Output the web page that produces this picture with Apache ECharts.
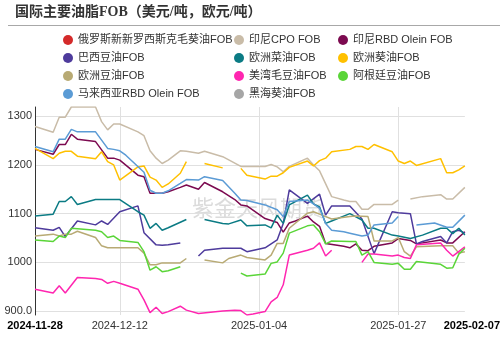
<!DOCTYPE html>
<html>
<head>
<meta charset="utf-8">
<script src="https://cdn.jsdelivr.net/npm/echarts@6/dist/echarts.min.js"></script>
<style>
html,body{margin:0;padding:0;background:#fff;}
#chart{width:503px;height:343px;}
</style>
</head>
<body>
<div id="chart"></div>
<script>
// ---------- DATA ----------
const dates = ['2024-11-28','2024-11-29','2024-11-30','2024-12-01','2024-12-02','2024-12-03','2024-12-04','2024-12-05','2024-12-06','2024-12-07','2024-12-08','2024-12-09','2024-12-10','2024-12-11','2024-12-12','2024-12-13','2024-12-14','2024-12-15','2024-12-16','2024-12-17','2024-12-18','2024-12-19','2024-12-20','2024-12-21','2024-12-22','2024-12-23','2024-12-24','2024-12-25','2024-12-26','2024-12-27','2024-12-28','2024-12-29','2024-12-30','2024-12-31','2025-01-01','2025-01-02','2025-01-03','2025-01-04','2025-01-05','2025-01-06','2025-01-07','2025-01-08','2025-01-09','2025-01-10','2025-01-11','2025-01-12','2025-01-13','2025-01-14','2025-01-15','2025-01-16','2025-01-17','2025-01-18','2025-01-19','2025-01-20','2025-01-21','2025-01-22','2025-01-23','2025-01-24','2025-01-25','2025-01-26','2025-01-27','2025-01-28','2025-01-29','2025-01-30','2025-01-31','2025-02-01','2025-02-02','2025-02-03','2025-02-04','2025-02-05','2025-02-06','2025-02-07'];
const xLabels = ['2024-11-28','2024-12-12','2025-01-04','2025-01-27','2025-02-07'];
const xGridDates = ['2024-12-12','2025-01-04','2025-01-27'];
const yTicks = [900,1000,1100,1200,1300];
const yTickLabels = ['900.0','1000','1100','1200','1300'];

const seriesNames = ['俄罗斯新新罗西斯克毛葵油FOB','印尼CPO FOB','印尼RBD Olein FOB','巴西豆油FOB','欧洲菜油FOB','欧洲葵油FOB','欧洲豆油FOB','美湾毛豆油FOB','阿根廷豆油FOB','马来西亚RBD Olein FOB','黑海葵油FOB'];

const ruSun = [];
const idnCpo = [['2024-11-28',1279],['2024-12-01',1267],['2024-12-02',1298],['2024-12-03',1298],['2024-12-04',1319],['2024-12-08',1319],['2024-12-09',1289],['2024-12-10',1272],['2024-12-11',1284],['2024-12-12',1284],['2024-12-15',1268],['2024-12-16',1260],['2024-12-17',1229],['2024-12-18',1214],['2024-12-19',1203],['2024-12-20',1210],['2024-12-22',1229],['2024-12-23',1228],['2024-12-25',1224],['2024-12-26',1228],['2024-12-29',1217],['2025-01-01',1197],['2025-01-05',1197],['2025-01-06',1201],['2025-01-07',1196],['2025-01-08',1186],['2025-01-09',1197],['2025-01-12',1214],['2025-01-13',1200],['2025-01-14',1188],['2025-01-16',1135],['2025-01-18',1128],['2025-01-19',1125],['2025-01-20',1125],['2025-01-21',1109],['2025-01-22',1109],['2025-01-23',1119],['2025-01-26',1119],['2025-01-27',1128],['2025-01-28',null],['2025-01-29',1130],['2025-01-31',1135],['2025-02-03',1139],['2025-02-04',1130],['2025-02-05',1130],['2025-02-07',1154]];
const idnRbd = [['2024-11-28',1232],['2024-12-01',1222],['2024-12-02',1242],['2024-12-03',1242],['2024-12-04',1263],['2024-12-05',1253],['2024-12-08',1248],['2024-12-10',1214],['2024-12-11',1214],['2024-12-12',1210],['2024-12-15',1179],['2024-12-16',1176],['2024-12-17',1142],['2024-12-19',1142],['2024-12-20',1145],['2024-12-22',1154],['2024-12-23',1159],['2024-12-25',1150],['2024-12-26',1164],['2024-12-29',1145],['2024-12-31',1129],['2025-01-01',1118],['2025-01-02',1116],['2025-01-05',1090],['2025-01-07',1082],['2025-01-08',1062],['2025-01-09',1081],['2025-01-10',1085],['2025-01-12',1095],['2025-01-13',1083],['2025-01-14',1074],['2025-01-15',1039],['2025-01-18',1033],['2025-01-19',1030],['2025-01-20',1038],['2025-01-21',1025],['2025-01-22',1024],['2025-01-23',1033],['2025-01-26',1040],['2025-01-27',1049],['2025-01-29',1045],['2025-01-30',1038],['2025-02-03',1046],['2025-02-04',1040],['2025-02-05',1040],['2025-02-07',1063]];
const braSoy = [['2024-11-28',1071],['2024-12-01',1066],['2024-12-02',1072],['2024-12-03',1053],['2024-12-05',1085],['2024-12-08',1077],['2024-12-09',1085],['2024-12-10',1078],['2024-12-12',1104],['2024-12-15',1116],['2024-12-16',1061],['2024-12-18',1036],['2024-12-19',1035],['2024-12-20',1036],['2024-12-22',1040],['2024-12-23',null],['2024-12-25',1013],['2024-12-26',1025],['2024-12-29',1029],['2025-01-01',1029],['2025-01-02',1022],['2025-01-05',1030],['2025-01-07',1046],['2025-01-08',1080],['2025-01-09',1149],['2025-01-12',1121],['2025-01-14',1140],['2025-01-15',1097],['2025-01-16',1116],['2025-01-19',1116],['2025-01-21',1089],['2025-01-23',1018],['2025-01-26',1104],['2025-01-27',1102],['2025-01-29',1100],['2025-01-30',1038],['2025-01-31',1043],['2025-02-03',1053],['2025-02-04',1040],['2025-02-05',1063],['2025-02-06',1066],['2025-02-07',1060]];
const euRape = [['2024-11-28',1095],['2024-12-01',1099],['2024-12-02',1125],['2024-12-03',1125],['2024-12-04',1135],['2024-12-05',1119],['2024-12-08',1129],['2024-12-12',1129],['2024-12-15',1104],['2024-12-16',1097],['2024-12-17',1070],['2024-12-18',1080],['2024-12-19',1066],['2024-12-20',1071],['2024-12-23',1088],['2024-12-24',null],['2024-12-26',1088],['2024-12-29',1080],['2024-12-30',1079],['2025-01-01',1087],['2025-01-02',1075],['2025-01-05',1077],['2025-01-06',1071],['2025-01-07',1097],['2025-01-08',1080],['2025-01-09',1118],['2025-01-12',1138],['2025-01-13',1120],['2025-01-14',1114],['2025-01-15',1080],['2025-01-16',1085],['2025-01-19',1100],['2025-01-21',1087],['2025-01-22',1070],['2025-01-23',1070],['2025-01-26',1056],['2025-01-27',1054],['2025-01-29',1049],['2025-01-31',1056],['2025-02-03',1070],['2025-02-04',1070],['2025-02-05',1059],['2025-02-06',1070],['2025-02-07',1056]];
const euSun = [['2024-11-28',1234],['2024-12-01',1213],['2024-12-02',1224],['2024-12-03',1228],['2024-12-04',1228],['2024-12-05',1218],['2024-12-08',1213],['2024-12-09',1227],['2024-12-10',1207],['2024-12-11',1200],['2024-12-12',1169],['2024-12-15',1196],['2024-12-16',1198],['2024-12-17',1175],['2024-12-18',1169],['2024-12-19',1154],['2024-12-20',1161],['2024-12-22',1183],['2024-12-23',1207],['2024-12-24',null],['2024-12-26',1203],['2024-12-29',1194],['2024-12-30',null],['2025-01-01',1193],['2025-01-02',1179],['2025-01-05',1171],['2025-01-06',1177],['2025-01-07',1177],['2025-01-08',1184],['2025-01-09',1195],['2025-01-12',1208],['2025-01-13',1198],['2025-01-14',1209],['2025-01-15',1214],['2025-01-16',1227],['2025-01-19',1232],['2025-01-20',1238],['2025-01-21',1238],['2025-01-22',1232],['2025-01-23',1242],['2025-01-26',1227],['2025-01-27',1208],['2025-01-28',1203],['2025-01-29',1208],['2025-01-30',1199],['2025-02-03',1213],['2025-02-04',1184],['2025-02-05',1184],['2025-02-06',1190],['2025-02-07',1198]];
const euSoy = [['2024-11-28',1054],['2024-12-01',1058],['2024-12-02',1054],['2024-12-03',1058],['2024-12-04',1058],['2024-12-05',1064],['2024-12-08',1051],['2024-12-09',1034],['2024-12-10',1030],['2024-12-15',1030],['2024-12-16',1019],['2024-12-17',995],['2024-12-18',995],['2024-12-19',999],['2024-12-22',999],['2024-12-23',1008],['2024-12-24',null],['2024-12-26',1005],['2024-12-29',999],['2024-12-30',1008],['2025-01-01',1015],['2025-01-02',1010],['2025-01-05',1005],['2025-01-06',1015],['2025-01-07',1039],['2025-01-08',1039],['2025-01-09',1070],['2025-01-12',1101],['2025-01-13',1104],['2025-01-14',1099],['2025-01-16',1089],['2025-01-19',1094],['2025-01-20',1095],['2025-01-22',1094],['2025-01-23',1044],['2025-01-26',1044],['2025-01-27',1051],['2025-01-28',1022],['2025-01-29',1013],['2025-01-30',1032],['2025-02-03',1034],['2025-02-05',1034],['2025-02-06',1019],['2025-02-07',1022]];
const usSoy = [['2024-11-28',945],['2024-12-01',937],['2024-12-02',952],['2024-12-03',937],['2024-12-05',969],['2024-12-08',967],['2024-12-09',965],['2024-12-10',957],['2024-12-11',961],['2024-12-12',957],['2024-12-15',945],['2024-12-16',923],['2024-12-17',897],['2024-12-18',908],['2024-12-19',895],['2024-12-20',899],['2024-12-22',910],['2024-12-23',902],['2024-12-25',895],['2024-12-29',900],['2024-12-31',902],['2025-01-01',901],['2025-01-02',892],['2025-01-03',894],['2025-01-05',899],['2025-01-06',919],['2025-01-07',928],['2025-01-08',954],['2025-01-09',1015],['2025-01-12',1025],['2025-01-13',1029],['2025-01-14',1040],['2025-01-15',1013],['2025-01-16',1025],['2025-01-17',null],['2025-01-21',1000],['2025-01-22',1017],['2025-01-23',1017],['2025-01-26',1013],['2025-01-27',1015],['2025-01-28',1010],['2025-01-29',1008],['2025-01-30',1036],['2025-02-03',1040],['2025-02-04',1025],['2025-02-05',1013],['2025-02-07',1032]];
const argSoy = [['2024-11-28',1046],['2024-12-01',1043],['2024-12-02',1054],['2024-12-03',1051],['2024-12-04',1070],['2024-12-08',1066],['2024-12-09',1063],['2024-12-10',1051],['2024-12-11',1054],['2024-12-12',1045],['2024-12-15',1041],['2024-12-16',1022],['2024-12-17',984],['2024-12-18',991],['2024-12-19',981],['2024-12-20',983],['2024-12-22',991],['2024-12-23',null],['2025-01-01',978],['2025-01-02',972],['2025-01-05',976],['2025-01-06',998],['2025-01-07',1001],['2025-01-08',1019],['2025-01-09',1060],['2025-01-12',1075],['2025-01-13',1077],['2025-01-14',1063],['2025-01-15',1038],['2025-01-16',1044],['2025-01-19',1043],['2025-01-20',1043],['2025-01-21',1015],['2025-01-22',1022],['2025-01-23',1000],['2025-01-26',996],['2025-01-27',998],['2025-01-28',986],['2025-01-29',986],['2025-01-30',1002],['2025-02-03',996],['2025-02-04',988],['2025-02-05',989],['2025-02-06',1017],['2025-02-07',1029]];
const malRbd = [['2024-11-28',1238],['2024-12-01',1227],['2024-12-02',1253],['2024-12-03',1253],['2024-12-04',1273],['2024-12-05',1268],['2024-12-08',1268],['2024-12-09',1251],['2024-12-10',1234],['2024-12-11',1232],['2024-12-12',1229],['2024-12-13',1220],['2024-12-16',1185],['2024-12-17',1148],['2024-12-18',1142],['2024-12-19',1142],['2024-12-20',1147],['2024-12-22',1162],['2024-12-23',1170],['2024-12-25',1169],['2024-12-26',1176],['2024-12-29',1168],['2024-12-31',1142],['2025-01-01',1128],['2025-01-02',1127],['2025-01-05',1118],['2025-01-07',1108],['2025-01-08',1094],['2025-01-09',1125],['2025-01-12',1128],['2025-01-13',1120],['2025-01-14',1111],['2025-01-15',1080],['2025-01-16',1066],['2025-01-18',1063],['2025-01-19',1060],['2025-01-21',1054],['2025-01-22',1056],['2025-01-23',1077],['2025-01-26',1081],['2025-01-27',1094],['2025-01-28',null],['2025-01-30',1077],['2025-02-02',1081],['2025-02-04',1072],['2025-02-05',1072],['2025-02-07',1097]];
const bsSun = [];

const seriesData = [ruSun, idnCpo, idnRbd, braSoy, euRape, euSun, euSoy, usSoy, argSoy, malRbd, bsSun];
const colors = ['#d42a2a','#c9bca8','#7c0a50','#4e3b9c','#0b7b84','#ffc000','#b8aa74','#ff26b0','#5ad538','#5b9bd5','#a6a6a6'];

// ---------- CHART ----------
const chart = echarts.init(document.getElementById('chart'), null, {renderer:'canvas'});
const sans = "'Liberation Sans','Noto Sans CJK SC',sans-serif";
const legendText = {fontSize:11, color:'#333', fontFamily:sans, lineHeight:12};
function legendCol(left, names){
  return {orient:'vertical', left:left, top:34, itemWidth:10, itemHeight:10, itemGap:6,
    icon:'circle', padding:0, textStyle:legendText, data:names};
}
const option = {
  animation:false,
  color: colors,
  title:{text:'国际主要油脂FOB（美元/吨，欧元/吨）', left:10, top:0,
    textStyle:{fontSize:14, fontWeight:'bold', color:'#333', fontFamily:"'Liberation Serif','Noto Sans CJK SC',serif"}},
  graphic:[
    {type:'line', shape:{x1:8, y1:25.5, x2:500, y2:25.5}, style:{stroke:'#a8a8a8', lineWidth:1}, silent:true},
    {type:'text', left:192, top:197, z:0, silent:true,
     style:{text:'紫金天风期货', fontSize:22, fill:'rgba(190,190,190,0.55)', fontFamily:"'Noto Sans CJK SC',sans-serif"}}
  ],
  legend:[
    legendCol(63, [seriesNames[0], seriesNames[3], seriesNames[6], seriesNames[9]]),
    legendCol(234, [seriesNames[1], seriesNames[4], seriesNames[7], seriesNames[10]]),
    legendCol(338, [seriesNames[2], seriesNames[5], seriesNames[8]])
  ],
  grid:{left:35, right:32, top:107, bottom:28},
  xAxis:{type:'category', data:dates, boundaryGap:false,
    axisLine:{show:false}, axisTick:{show:false},
    axisLabel:{interval:(i,v)=>xLabels.includes(v), fontSize:11, color:'#333', margin:5, fontFamily:sans,
      formatter:(v)=> v===xLabels[0] ? '{b|'+v+'}' : (v===xLabels[xLabels.length-1] ? '{e|'+v+'}' : v),
      rich:{b:{fontWeight:'bold', fontSize:11, color:'#000', fontFamily:sans},
            e:{fontWeight:'bold', fontSize:11, color:'#000', fontFamily:sans, padding:[0,0,0,14]}}},
    splitLine:{show:true, interval:(i,v)=>xGridDates.includes(v), lineStyle:{color:'#e0e0e0', width:1}}
  },
  yAxis:{type:'value', min:892, max:1319,
    axisLine:{show:true, lineStyle:{color:'#333', width:1}},
    axisTick:{show:false, customValues:yTicks},
    axisLabel:{customValues:yTicks, fontSize:11, color:'#333', margin:3, fontFamily:sans,
      formatter:(v)=>{const k=yTicks.indexOf(v); return k>=0?yTickLabels[k]:'';}},
    splitLine:{show:true, lineStyle:{color:'#e0e0e0', width:1}}
  },
  series: seriesNames.map((n,i)=>({
    name:n, type:'line', data:seriesData[i], showSymbol:false, symbol:'none',
    connectNulls:false, lineStyle:{width:1.5, color:colors[i]}, itemStyle:{color:colors[i]}, z:2
  }))
};
chart.setOption(option);
</script>
</body>
</html>
